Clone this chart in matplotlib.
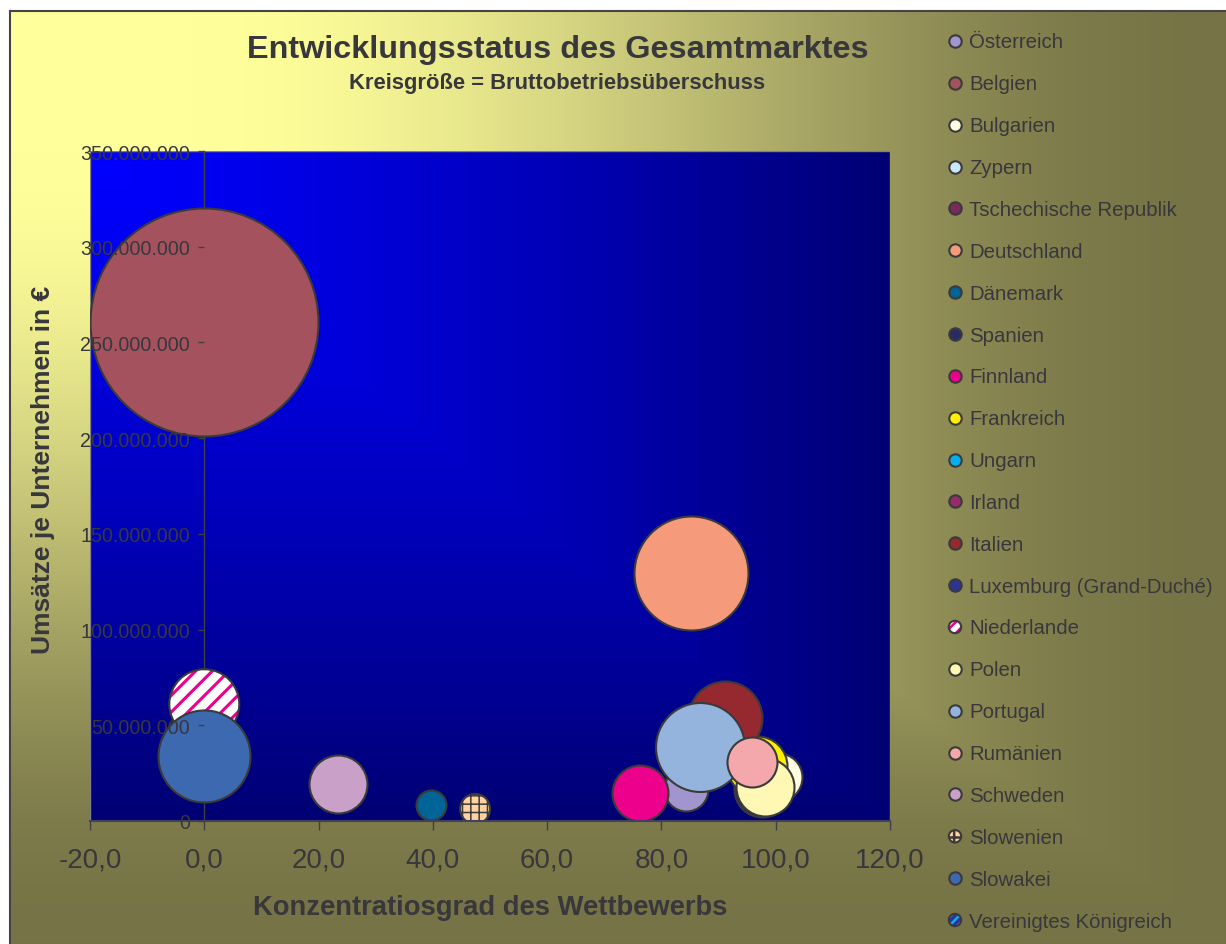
import numpy as np
import matplotlib
matplotlib.use('Agg')
import matplotlib.pyplot as plt
from matplotlib.ticker import MultipleLocator, FuncFormatter

plt.rcParams['font.family'] = ['Liberation Sans', 'DejaVu Sans']

# data (x = Konzentrationsgrad, y = Umsatz je Unternehmen,
# groesse = Bruttobetriebsueberschuss, relative units)
laender = ['Österreich', 'Belgien', 'Bulgarien', 'Zypern', 'Tschechische Republik',
           'Deutschland', 'Dänemark', 'Spanien', 'Finnland', 'Frankreich', 'Ungarn',
           'Irland', 'Italien', 'Luxemburg (Grand-Duché)', 'Niederlande', 'Polen',
           'Portugal', 'Rumänien', 'Schweden', 'Slowenien', 'Slowakei',
           'Vereinigtes Königreich']
konzentration = [84.3, 0.0, 100.4, None, None, 85.2, 39.7, 97.6, 76.2, 96.7, None,
                 None, 91.1, None, 0.0, 98.1, 86.8, 95.8, 23.4, 47.4, 0.0, None]
umsatz = [16.7e6, 260.7e6, 23.0e6, None, None, 129.6e6, 8.4e6, 16.7e6, 14.6e6, 28.7e6,
          None, None, 53.8e6, None, 61.0e6, 17.8e6, 38.7e6, 30.8e6, 19.3e6, 6.3e6,
          33.9e6, None]
groesse = [484, 13000, 576, None, None, 3250, 225, 784, 784, 900, None, None, 1370,
           None, 1225, 841, 1980, 625, 841, 225, 2120, None]
farben = ['#A096CD', '#A5525F', '#FFFCE1', '#C8E8F8', '#7A2A5A', '#F59B7B', '#006496',
          '#2A2A66', '#EC008C', '#FFF000', '#00B0F0', '#952B6B', '#962830', '#2D3393',
          '#FFFFFF', '#FFF8B4', '#94B4DE', '#F5A8AC', '#C8A0C8', '#FFD2A0', '#3C69AF',
          '#2D3393']
# hatched series: name -> (hatch, hatch colour, hatch linewidth, legend hatch)
muster = {'Niederlande': ('//', '#EC008C', 2.2, '///'),
          'Slowenien': ('++', '#3A3A3A', 1.1, '++'),
          'Vereinigtes Königreich': ('//', '#00B0F0', 1.5, '////')}

kante = '#3A3A3A'
textfarbe = '#37373C'

W, H = 1226, 945
fig = plt.figure(figsize=(W / 100, H / 100), dpi=100, facecolor='white')


def smooth(x):
    x = np.clip(x, 0, 1)
    return 3 * x ** 2 - 2 * x ** 3


# background with "from corner" gradient
bg = fig.add_axes([10 / W, 0, 1 - 10 / W, 1 - 12 / H], zorder=-10)
u = np.linspace(0, 1, 400)[None, :]
v = np.linspace(0, 1, 300)[:, None]
t = smooth((np.maximum(u, v) - 0.15) / 0.85)
c0 = np.array([255, 255, 155]) / 255
c1 = np.array([118, 115, 70]) / 255
img = c0 + (c1 - c0) * t[..., None]
bg.imshow(img, extent=(0, 1, 0, 1), aspect='auto', origin='upper')
bg.set_xlim(0, 1)
bg.set_ylim(0, 1)
bg.set_xticks([])
bg.set_yticks([])
for s in ['right', 'bottom']:
    bg.spines[s].set_visible(False)
for s in ['left', 'top']:
    bg.spines[s].set_color('#444444')
    bg.spines[s].set_linewidth(1.5)

# plot area
ax = fig.add_axes([90 / W, 1 - 822 / H, 800 / W, 670 / H])
ax.set_facecolor('none')
pu = np.linspace(0, 1, 400)[None, :]
pv = np.linspace(0, 1, 300)[:, None]
pt = np.maximum(pu, pv) ** 1.2
b = (255 - (255 - 115) * pt) / 255
pimg = np.zeros(pt.shape + (3,))
pimg[..., 2] = b
ax.imshow(pimg, extent=(-20, 120, 0, 350e6), aspect='auto', origin='upper', zorder=0)
ax.add_patch(plt.Rectangle((0, 0), 1, 1, transform=ax.transAxes, fill=False,
                           edgecolor='#808080', lw=1.0, zorder=1))

skala = (1.44 * 114) ** 2 / 13000
for i, name in enumerate(laender):
    if konzentration[i] is None:
        continue
    s = groesse[i] * skala
    z = 3 + i * 0.01
    if name in muster:
        h, hc, hl, _ = muster[name]
        with plt.rc_context({'hatch.linewidth': hl}):
            sc = ax.scatter(konzentration[i], umsatz[i], s=s, facecolors=farben[i],
                            edgecolors=hc, linewidths=0, hatch=h, zorder=z)
        if hasattr(sc, 'set_hatch_linewidth'):
            sc.set_hatch_linewidth(hl)
        ax.scatter(konzentration[i], umsatz[i], s=s, facecolors='none',
                   edgecolors=kante, linewidths=1.5, zorder=z + 0.001)
    else:
        ax.scatter(konzentration[i], umsatz[i], s=s, facecolors=farben[i],
                   edgecolors=kante, linewidths=1.5, zorder=z)

ax.set_xlim(-20, 120)
ax.set_ylim(0, 350e6)
ax.spines['left'].set_position(('data', 0))
ax.spines['left'].set_color('#404040')
ax.spines['left'].set_linewidth(1.0)
ax.spines['left'].set_zorder(2)
ax.spines['bottom'].set_color('#404060')
ax.spines['bottom'].set_linewidth(1.5)
ax.spines['bottom'].set_zorder(5)
ax.spines['top'].set_visible(False)
ax.spines['right'].set_visible(False)
ax.yaxis.set_zorder(5)
ax.xaxis.set_zorder(5)
ax.xaxis.set_major_locator(MultipleLocator(20))
ax.yaxis.set_major_locator(MultipleLocator(50e6))
ax.xaxis.set_major_formatter(FuncFormatter(lambda x, p: f'{x:.1f}'.replace('.', ',')))
ax.yaxis.set_major_formatter(FuncFormatter(lambda y, p: f'{int(round(y)):,}'.replace(',', '.')))
ax.tick_params(axis='x', direction='out', length=6.5, width=1.0, color='#404040',
               labelsize=20, labelcolor=textfarbe, pad=12)
ax.tick_params(axis='y', direction='out', length=4.3, width=1.0, color='#404040',
               labelsize=14.2, labelcolor=textfarbe, pad=6)

# titles
fig.text(557.5 / W, 1 - 50 / H, 'Entwicklungsstatus des Gesamtmarktes', ha='center',
         va='center', fontsize=23.3, fontweight='bold', color=textfarbe)
fig.text(557.5 / W, 1 - 84 / H, 'Kreisgröße = Bruttobetriebsüberschuss', ha='center',
         va='center', fontsize=15.8, fontweight='bold', color=textfarbe)
fig.text(490 / W, 1 - 908 / H, 'Konzentratiosgrad des Wettbewerbs', ha='center',
         va='center', fontsize=19.7, fontweight='bold', color=textfarbe)
fig.text(43 / W, 1 - 470 / H, 'Umsätze je Unternehmen in €', ha='center', va='center',
         rotation=90, fontsize=19, fontweight='bold', color=textfarbe)

# legend
lg = fig.add_axes([0, 0, 1, 1], zorder=5)
lg.set_xlim(0, W)
lg.set_ylim(H, 0)
lg.axis('off')
for i, name in enumerate(laender):
    y = 42 + i * (921 - 42) / 21
    if name in muster:
        h, hc, hl, lh = muster[name]
        with plt.rc_context({'hatch.linewidth': 1.8}):
            sc = lg.scatter(955, y, s=80, facecolors=farben[i], edgecolors=hc,
                            linewidths=0, hatch=lh)
        if hasattr(sc, 'set_hatch_linewidth'):
            sc.set_hatch_linewidth(1.8)
        lg.scatter(955, y, s=80, facecolors='none', edgecolors=kante, linewidths=1.5)
    else:
        lg.scatter(955, y, s=80, facecolors=farben[i], edgecolors=kante, linewidths=1.5)
    lg.text(969, y + 1, name, ha='left', va='center', fontsize=14.7, color=textfarbe)

fig.savefig('out.png', dpi=100)
